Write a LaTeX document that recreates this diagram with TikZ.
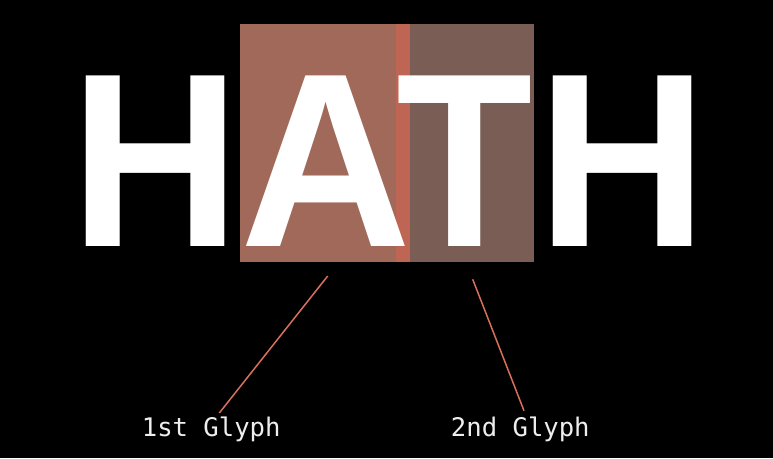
\documentclass[tikz,border=0pt]{standalone}
\usepackage{fontspec}
\usepackage{graphicx}
\setmainfont{Liberation Sans}
\newfontfamily\labelmono{DejaVu Sans Mono}
\definecolor{boxone}{HTML}{A0695A}
\definecolor{boxtwo}{HTML}{7A5D54}
\definecolor{boxstrip}{HTML}{BE6653}
\definecolor{leader}{HTML}{D9705A}
\definecolor{labeltext}{HTML}{EEEEEE}
\tikzset{
  glyph/.style={font=\fontsize{248}{256}\selectfont\bfseries, text=white, inner sep=0pt, anchor=base},
  glyphlabel/.style={font=\labelmono\fontsize{25.6}{30}\selectfont, text=labeltext, inner sep=0pt, anchor=base},
  leaderline/.style={draw=leader, line width=1.5pt}
}
\begin{document}
\begin{tikzpicture}[x=1pt,y=-1pt]
\fill[black] (0,0) rectangle (773,458);
\useasboundingbox (0,0) rectangle (773,458);
\fill[boxone] (240,24) rectangle (410,261.5);
\fill[boxtwo] (396,24) rectangle (534,261.5);
\fill[boxstrip] (396,24) rectangle (410,261.5);
\node[glyph] (h1) at (155.3,246.7) {\scalebox{0.95}[1]{H}};
\node[glyph] (a) at (326.2,246.7) {\scalebox{0.955}[1]{A}};
\node[glyph] (t) at (464.2,246.7) {\scalebox{0.9}[1]{T}};
\node[glyph] (h2) at (622.2,246.7) {\scalebox{0.95}[1]{H}};
\node[glyphlabel] (l1) at (211.2,436.7) {1st Glyph};
\node[glyphlabel] (l2) at (520.3,436.7) {2nd Glyph};
\coordinate (p1) at (327.7,276);
\coordinate (q1) at (219.3,413);
\coordinate (p2) at (472.7,279.3);
\coordinate (q2) at (524,410.7);
\draw[leaderline] (p1) -- (q1);
\draw[leaderline] (p2) -- (q2);
\end{tikzpicture}
\end{document}
